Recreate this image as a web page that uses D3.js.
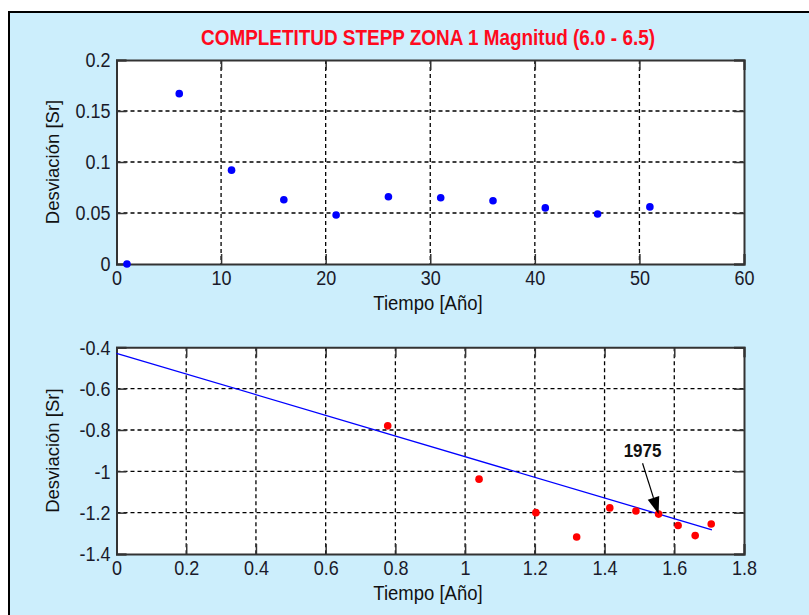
<!DOCTYPE html>
<html>
<head>
<meta charset="utf-8">
<script src="https://cdn.jsdelivr.net/npm/d3@7"></script>
<style>
  body { margin: 0; background: #fff; }
  text { font-family: "Liberation Sans", Arial, sans-serif; }
</style>
</head>
<body>
<div id="chart"></div>
<script>
// top panel: Sr vs time window
var timeYears = [1, 6, 11, 16, 21, 26, 31, 36, 41, 46, 51];
var devTop = [0, 0.167, 0.092, 0.063, 0.048, 0.066, 0.065, 0.062, 0.055, 0.049, 0.056];
var topXTicks = [0, 10, 20, 30, 40, 50, 60];
var topYTicks = [0, 0.05, 0.1, 0.15, 0.2];

// bottom panel: log-log
var logTime = [0.778, 1.040, 1.203, 1.320, 1.415, 1.490, 1.555, 1.611, 1.660, 1.706];
var logDev = [-0.780, -1.038, -1.200, -1.318, -1.177, -1.192, -1.207, -1.262, -1.311, -1.255];
var fitX = [0, 1.708];
var fitY = [-0.429, -1.283];
var botXTicks = [0, 0.2, 0.4, 0.6, 0.8, 1, 1.2, 1.4, 1.6, 1.8];
var botYTicks = [-1.4, -1.2, -1, -0.8, -0.6, -0.4];

var mark = { label: "1975", x: 1.555, y: -1.207, tx: 1.509, ty: -0.961, lx: 1.509, ly: -0.931 };

var title = "COMPLETITUD STEPP ZONA 1 Magnitud (6.0 - 6.5)";

const W = 809, H = 615;
const left = 116.5, right = 744;
const stretch = 1.12; // text in the source looks a bit taller than wide

const svg = d3.select("#chart").append("svg")
  .attr("width", W)
  .attr("height", H);

// figure background with frame
svg.append("rect")
  .attr("x", 9).attr("y", 12)
  .attr("width", W).attr("height", H)
  .attr("fill", "#CCEEFC")
  .attr("stroke", "#000")
  .attr("stroke-width", 2);

svg.append("text")
  .attr("transform", "translate(428,45) scale(1," + stretch + ")")
  .attr("text-anchor", "middle")
  .attr("font-size", "19.5px")
  .attr("font-weight", "bold")
  .attr("fill", "#FF0A1E")
  .attr("textLength", 454)
  .attr("lengthAdjust", "spacingAndGlyphs")
  .text(title);

var fmt = d => d3.format("~g")(d).replace("\u2212", "-");

function panel(top, bottom, xDom, yDom, xTicks, yTicks) {
  var x = d3.scaleLinear().domain(xDom).range([left, right]);
  var y = d3.scaleLinear().domain(yDom).range([bottom, top]);
  var g = svg.append("g");

  g.append("rect")
    .attr("x", left).attr("y", top)
    .attr("width", right - left).attr("height", bottom - top)
    .attr("fill", "#fff");

  // dashed grid
  g.append("g").selectAll("line")
    .data(xTicks.slice(1, -1))
    .enter().append("line")
    .attr("x1", d => x(d)).attr("x2", d => x(d))
    .attr("y1", top).attr("y2", bottom)
    .attr("stroke", "#000").attr("stroke-width", 1.3)
    .attr("stroke-dasharray", "4,3");
  g.append("g").selectAll("line")
    .data(yTicks.slice(1, -1))
    .enter().append("line")
    .attr("y1", d => y(d)).attr("y2", d => y(d))
    .attr("x1", left).attr("x2", right)
    .attr("stroke", "#000").attr("stroke-width", 1.3)
    .attr("stroke-dasharray", "4,3");

  // axes, ticks pointing inward on all four sides
  var ax = [
    [d3.axisBottom(x).tickValues(xTicks).tickSize(-10).tickFormat(fmt), "translate(0," + bottom + ")", "b"],
    [d3.axisTop(x).tickValues(xTicks).tickSize(-10).tickFormat(""), "translate(0," + top + ")", ""],
    [d3.axisLeft(y).tickValues(yTicks).tickSize(-10).tickFormat(fmt), "translate(" + left + ",0)", "l"],
    [d3.axisRight(y).tickValues(yTicks).tickSize(-10).tickFormat(""), "translate(" + right + ",0)", ""]
  ];
  ax.forEach(function(a) {
    var s = g.append("g").attr("transform", a[1]).call(a[0]);
    s.select(".domain").attr("stroke", "#333").attr("stroke-width", 2);
    s.selectAll(".tick line").attr("stroke", "#333").attr("stroke-width", 1.5);
    var t = s.selectAll("text")
      .attr("font-size", "18px")
      .attr("font-family", "Liberation Sans, Arial, sans-serif")
      .attr("fill", "#1a1a2a");
    if (a[2] === "b") {
      t.attr("y", 6).attr("dy", "0.71em").attr("transform", "scale(1," + stretch + ")");
    } else if (a[2] === "l") {
      t.attr("x", -6).attr("dy", "0.34em").attr("transform", "scale(1," + stretch + ")");
    }
  });
  return { x: x, y: y, g: g };
}

var topP = panel(60, 264, [0, 60], [0, 0.2], topXTicks, topYTicks);
var botP = panel(347.3, 554, [0, 1.8], [-1.4, -0.4], botXTicks, botYTicks);

// top scatter
topP.g.append("g").selectAll("circle")
  .data(timeYears)
  .enter().append("circle")
  .attr("cx", d => topP.x(d))
  .attr("cy", (d, i) => topP.y(devTop[i]))
  .attr("r", 3.8)
  .attr("fill", "#0000FF");

// bottom fit line + scatter
botP.g.append("path")
  .datum(fitX)
  .attr("fill", "none")
  .attr("stroke", "#0000FF")
  .attr("stroke-width", 1.3)
  .attr("d", d3.line().x(d => botP.x(d)).y((d, i) => botP.y(fitY[i])));

botP.g.append("g").selectAll("circle")
  .data(logTime)
  .enter().append("circle")
  .attr("cx", d => botP.x(d))
  .attr("cy", (d, i) => botP.y(logDev[i]))
  .attr("r", 3.8)
  .attr("fill", "#FF0000");

// annotation arrow
var x0 = botP.x(mark.tx), y0 = botP.y(mark.ty);
var x1 = botP.x(mark.x), y1 = botP.y(mark.y);
var ang = Math.atan2(y1 - y0, x1 - x0);
var hl = 17, hw = 6;
var bx = x1 - hl * Math.cos(ang), by = y1 - hl * Math.sin(ang);
botP.g.append("line")
  .attr("x1", x0).attr("y1", y0).attr("x2", bx).attr("y2", by)
  .attr("stroke", "#000").attr("stroke-width", 1.2);
botP.g.append("path")
  .attr("d", "M" + x1 + "," + y1 +
    "L" + (bx + hw * Math.sin(ang)) + "," + (by - hw * Math.cos(ang)) +
    "L" + (bx - hw * Math.sin(ang)) + "," + (by + hw * Math.cos(ang)) + "Z")
  .attr("fill", "#000");
botP.g.append("text")
  .attr("transform", "translate(" + botP.x(mark.lx) + "," + botP.y(mark.ly) + ") scale(1," + stretch + ")")
  .attr("text-anchor", "middle")
  .attr("font-size", "17px")
  .attr("font-weight", "bold")
  .attr("fill", "#111")
  .text(mark.label);

// axis labels
[[60, 264], [347.3, 554]].forEach(function(p) {
  svg.append("text")
    .attr("transform", "translate(428," + (p[1] + 46) + ") scale(1," + stretch + ")")
    .attr("text-anchor", "middle")
    .attr("font-size", "18.5px")
    .attr("fill", "#111")
    .text("Tiempo [Año]");
  svg.append("text")
    .attr("transform", "translate(59," + ((p[0] + p[1]) / 2) + ") rotate(-90)")
    .attr("text-anchor", "middle")
    .attr("font-size", "18.5px")
    .attr("fill", "#111")
    .text("Desviación [Sr]");
});
</script>
</body>
</html>
